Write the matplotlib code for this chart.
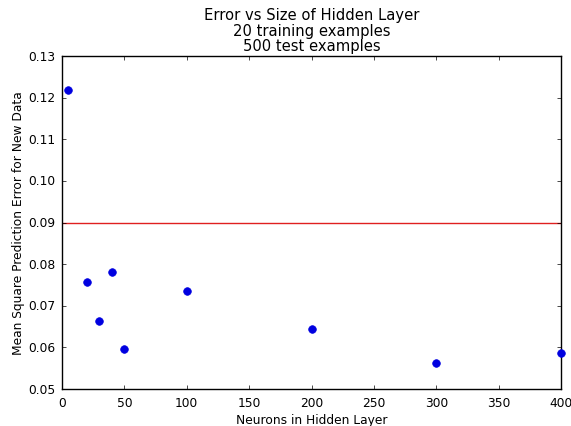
import matplotlib
matplotlib.use("Agg")
import matplotlib.pyplot as plt

plt.style.use("classic")

neurons = [5, 20, 30, 40, 50, 100, 200, 300, 400]
mse = [0.1218, 0.0757, 0.0663, 0.0781, 0.0596, 0.0735, 0.0644, 0.0563, 0.0586]
baseline = 0.09

fig = plt.figure(figsize=(5.71, 4.27), dpi=100)
fig.patch.set_facecolor("white")
ax = fig.add_axes([62 / 571, 1 - 390 / 427, 499 / 571, 333 / 427])

ax.plot(neurons, mse, "o", color="#0000e0", markeredgecolor="#0000e0",
        markersize=5.5, markeredgewidth=0.5, clip_on=False, zorder=3)
ax.axhline(baseline, color="#e02020", linewidth=1.0)

ax.set_xlim(0, 400)
ax.set_ylim(0.05, 0.13)
ax.set_xticks([0, 50, 100, 150, 200, 250, 300, 350, 400])
ax.set_yticks([0.05, 0.06, 0.07, 0.08, 0.09, 0.10, 0.11, 0.12, 0.13])
ax.tick_params(labelsize=8.8, length=3, pad=5)
ax.set_xlabel("Neurons in Hidden Layer", fontsize=8.8, labelpad=3)
ax.set_ylabel("Mean Square Prediction Error for New Data", fontsize=8.8, labelpad=2)
ax.set_title("Error vs Size of Hidden Layer\n20 training examples\n500 test examples",
             fontsize=10.6, linespacing=1.05, pad=4)

fig.savefig("out.png", dpi=100, facecolor="white")
